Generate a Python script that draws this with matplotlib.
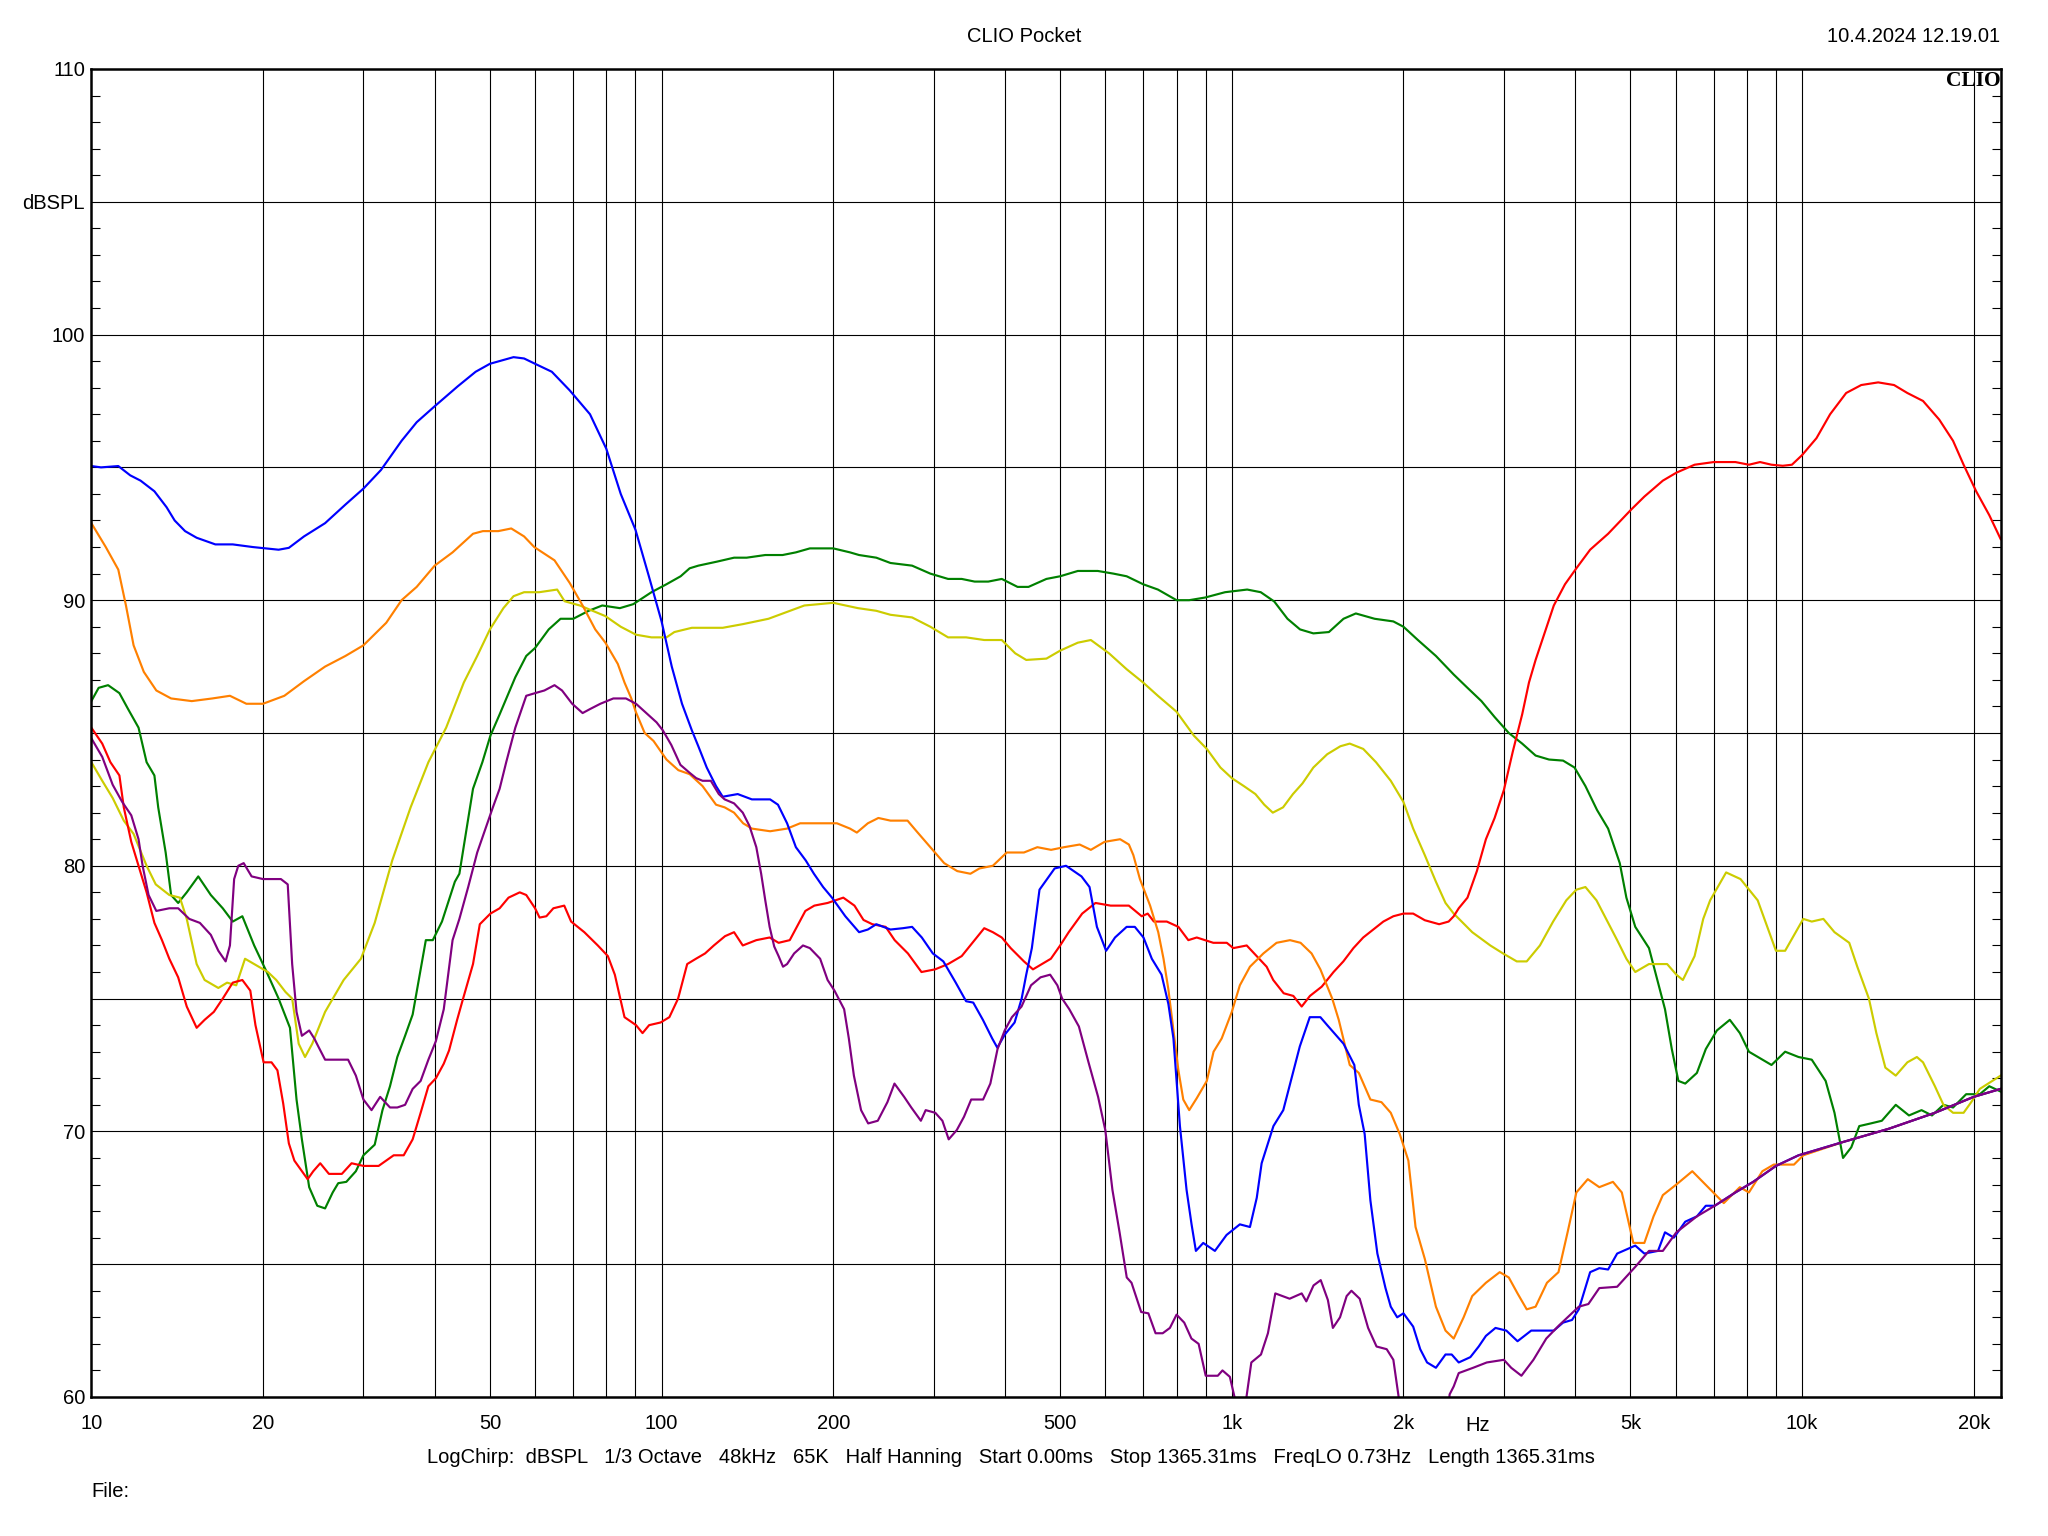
import matplotlib
matplotlib.use("Agg")
import matplotlib.pyplot as plt

plt.rcParams['font.family'] = ['Liberation Sans', 'DejaVu Sans']

# ---------------- data (frequency in Hz, level in dBSPL) ----------------
blue_f = [10, 10.4, 11.15, 11.7, 12.2, 12.9, 13.55, 14.0, 14.6, 15.3, 16.5, 17.7, 19.2, 21.3, 22.2, 23.6,
          25.7, 27.9, 30, 32.2, 35, 37.2, 40, 43.9, 47.2, 50, 55, 57.4, 60, 64.2, 69, 74.9, 80, 84.8, 90, 95,
          100, 104.2, 108.6, 113, 116, 120, 124.6, 128, 136, 144, 155, 160, 166, 172, 179, 185, 192, 199, 210,
          222, 230, 238, 252, 265, 275, 286, 299, 312, 328, 342, 352, 366, 380, 388, 400, 416, 428, 436, 446,
          460, 489, 512, 545, 563, 580, 602, 624, 654, 676, 700, 724, 753, 774, 790, 811, 833, 850, 865, 891,
          934, 979, 1033, 1076, 1106, 1128, 1183, 1231, 1273, 1316, 1370, 1430, 1470, 1570, 1640, 1670, 1710,
          1750, 1800, 1860, 1900, 1950, 2000, 2080, 2140, 2200, 2280, 2370, 2430, 2500, 2620, 2710, 2790, 2900,
          3030, 3170, 3350, 3540, 3670, 3810, 3950, 4060, 4250, 4410, 4570, 4740, 5100, 5290, 5590, 5750, 5960,
          6240, 6540, 6780, 7030, 7640, 8210, 9000, 9860, 11800, 14200, 17100, 20000, 22300]
blue_db = [95.05, 95.0, 95.05, 94.7, 94.5, 94.1, 93.5, 93.0, 92.6, 92.35, 92.1, 92.1, 92.0, 91.9, 91.97, 92.4,
           92.9, 93.6, 94.2, 94.9, 96.0, 96.7, 97.3, 98.05, 98.6, 98.9, 99.15, 99.1, 98.9, 98.6, 97.9, 97.0,
           95.7, 94.0, 92.65, 90.9, 89.2, 87.5, 86.1, 85.1, 84.5, 83.7, 83.0, 82.6, 82.7, 82.5, 82.5, 82.3, 81.6,
           80.7, 80.2, 79.7, 79.2, 78.8, 78.1, 77.5, 77.6, 77.8, 77.6, 77.65, 77.7, 77.3, 76.7, 76.4, 75.6, 74.9,
           74.85, 74.2, 73.5, 73.15, 73.65, 74.1, 75.0, 75.9, 76.9, 79.1, 79.9, 80.0, 79.6, 79.2, 77.7, 76.8, 77.3,
           77.7, 77.7, 77.3, 76.5, 75.9, 74.8, 73.5, 70.2, 67.8, 66.5, 65.5, 65.8, 65.5, 66.1, 66.5, 66.4, 67.5,
           68.8, 70.2, 70.8, 72.0, 73.2, 74.3, 74.3, 74.0, 73.3, 72.5, 71.0, 69.9, 67.4, 65.4, 64.1, 63.4, 63.0,
           63.15, 62.65, 61.8, 61.3, 61.1, 61.6, 61.6, 61.3, 61.5, 61.9, 62.3, 62.6, 62.5, 62.1, 62.5, 62.5, 62.5,
           62.8, 62.9, 63.3, 64.7, 64.85, 64.8, 65.4, 65.7, 65.4, 65.5, 66.2, 66.0, 66.6, 66.8, 67.2, 67.2, 67.7,
           68.1, 68.7, 69.1, 69.6, 70.1, 70.7, 71.3, 71.6]

orange_f = [10, 10.6, 11.15, 11.5, 11.86, 12.36, 13.0, 13.8, 15.0, 16.3, 17.5, 18.7, 20, 21.8, 23.6, 25.7, 27.9,
            30, 32.9, 35, 37.2, 40, 43, 46.7, 48.6, 51.7, 54.5, 57.4, 59.8, 64.9, 69, 72.7, 76.5, 79.7, 83.8,
            86.1, 88.5, 90.1, 93.4, 96.8, 102, 107, 112, 118, 124.6, 129, 134, 139, 144, 155, 166, 175, 192, 203,
            214, 220, 230, 240, 252, 270, 280, 296, 313, 330, 348, 361, 381, 403, 432, 456, 482, 508, 541, 566,
            598, 637, 660, 672, 690, 719, 743, 759, 774, 790, 806, 822, 842, 868, 904, 929, 960, 1000, 1033,
            1076, 1136, 1198, 1265, 1320, 1380, 1430, 1500, 1540, 1610, 1670, 1750, 1830, 1900, 1970, 2040, 2100,
            2180, 2280, 2370, 2450, 2550, 2640, 2790, 2950, 3060, 3170, 3290, 3410, 3570, 3740, 3880, 4020, 4210,
            4410, 4660, 4830, 5060, 5290, 5490, 5700, 6020, 6420, 6840, 7290, 7780, 8070, 8520, 8920, 9680, 10050,
            11800, 14200, 17100, 20000, 22300]
orange_db = [92.9, 92.0, 91.15, 89.8, 88.3, 87.3, 86.6, 86.3, 86.2, 86.3, 86.4, 86.1, 86.1, 86.4, 86.95, 87.5,
             87.9, 88.3, 89.15, 90.0, 90.5, 91.3, 91.8, 92.5, 92.6, 92.6, 92.7, 92.4, 92.0, 91.5, 90.65, 89.8,
             88.9, 88.4, 87.6, 86.9, 86.3, 85.8, 85.0, 84.7, 84.0, 83.6, 83.45, 83.0, 82.3, 82.2, 82.0, 81.6, 81.4,
             81.3, 81.4, 81.6, 81.6, 81.6, 81.4, 81.25, 81.6, 81.8, 81.7, 81.7, 81.3, 80.7, 80.1, 79.8, 79.7, 79.9,
             80.0, 80.5, 80.5, 80.7, 80.6, 80.7, 80.8, 80.6, 80.9, 81.0, 80.8, 80.4, 79.5, 78.5, 77.5, 76.5, 75.35,
             73.8, 72.3, 71.2, 70.8, 71.25, 71.9, 73.0, 73.5, 74.5, 75.5, 76.2, 76.7, 77.1, 77.2, 77.1, 76.7, 76.1,
             75.0, 74.2, 72.5, 72.2, 71.2, 71.1, 70.7, 69.9, 68.9, 66.4, 65.2, 63.4, 62.5, 62.2, 63.0, 63.8, 64.3,
             64.7, 64.5, 63.9, 63.3, 63.4, 64.3, 64.7, 66.2, 67.7, 68.2, 67.9, 68.1, 67.7, 65.8, 65.8, 66.8, 67.6,
             68.0, 68.5, 67.9, 67.3, 67.9, 67.7, 68.5, 68.75, 68.75, 69.1, 69.6, 70.1, 70.7, 71.3, 71.6]

yellow_f = [10, 10.45, 10.9, 11.4, 11.86, 12.5, 12.97, 13.7, 14.3, 14.7, 15.3, 15.8, 16.7, 17.3, 17.95, 18.6,
            19.3, 20.4, 21.1, 21.9, 22.5, 23.1, 23.7, 24.4, 25.7, 27.7, 29.7, 31.4, 33.7, 36.3, 39, 41.9, 45,
            47.5, 50, 52.8, 55, 57.4, 61, 65.6, 67.6, 71.9, 79.7, 84.8, 90.2, 96, 102, 105.3, 113, 128, 139, 154,
            178, 200, 221, 238, 252, 275, 296, 318, 342, 368, 395, 417, 436, 473, 500, 537, 566, 609, 654, 699,
            742, 800, 858, 904, 955, 1000, 1050, 1100, 1140, 1180, 1230, 1280, 1330, 1390, 1470, 1550, 1610, 1700,
            1790, 1900, 2000, 2080, 2180, 2280, 2370, 2450, 2640, 2840, 2990, 3160, 3290, 3470, 3660, 3860, 4020,
            4170, 4360, 4740, 4920, 5100, 5390, 5800, 6020, 6180, 6480, 6710, 6900, 7360, 7800, 8360, 9000, 9340,
            10050, 10400, 10900, 11400, 12100, 12500, 13100, 13500, 14000, 14600, 15300, 15900, 16300, 17100,
            17700, 18400, 19200, 19800, 20500, 22300]
yellow_db = [83.9, 83.2, 82.55, 81.7, 81.2, 80.0, 79.3, 78.9, 78.8, 78.0, 76.3, 75.7, 75.4, 75.6, 75.5, 76.5,
             76.3, 76.0, 75.7, 75.25, 75.0, 73.3, 72.8, 73.3, 74.5, 75.7, 76.5, 77.85, 80.2, 82.2, 83.9, 85.2,
             86.9, 87.9, 88.9, 89.7, 90.15, 90.3, 90.3, 90.4, 89.96, 89.8, 89.4, 89.0, 88.7, 88.6, 88.6, 88.8,
             88.96, 88.96, 89.1, 89.3, 89.8, 89.9, 89.7, 89.6, 89.45, 89.35, 89.0, 88.6, 88.6, 88.5, 88.5, 88.0,
             87.75, 87.8, 88.1, 88.4, 88.5, 88.0, 87.4, 86.9, 86.4, 85.8, 84.9, 84.4, 83.7, 83.3, 83.0, 82.7, 82.3,
             82.0, 82.2, 82.7, 83.1, 83.7, 84.2, 84.5, 84.6, 84.4, 83.9, 83.2, 82.4, 81.4, 80.4, 79.4, 78.6, 78.2,
             77.5, 77.0, 76.7, 76.4, 76.4, 77.0, 77.9, 78.7, 79.1, 79.2, 78.7, 77.2, 76.5, 76.0, 76.3, 76.3, 75.9,
             75.7, 76.6, 78.0, 78.7, 79.75, 79.5, 78.7, 76.8, 76.8, 78.0, 77.9, 78.0, 77.5, 77.1, 76.2, 75.0, 73.7,
             72.4, 72.1, 72.6, 72.8, 72.6, 71.7, 71.0, 70.7, 70.7, 71.1, 71.6, 72.1]

green_f = [10, 10.3, 10.7, 11.2, 11.6, 12.1, 12.5, 12.9, 13.1, 13.5, 13.8, 14.2, 14.7, 15.4, 16.2, 17.0, 17.7,
           18.4, 19.3, 20.3, 21.3, 22.3, 22.9, 23.4, 24.1, 24.9, 25.7, 26.5, 27.1, 28.0, 29.1, 30, 31.4, 32.4,
           33.4, 34.4, 35.5, 36.6, 38.6, 39.7, 41.2, 43.4, 44.2, 46.7, 48.5, 50.1, 52, 55.4, 57.9, 60, 63.4, 66.5,
           70, 74.5, 78.7, 84.5, 89.2, 96, 102, 108, 112, 116, 125, 134, 141, 152, 163, 172, 182, 200, 214, 222,
           238, 252, 275, 296, 318, 336, 354, 374, 395, 421, 440, 473, 500, 537, 582, 620, 654, 699, 742, 800,
           842, 898, 973, 1064, 1124, 1187, 1252, 1317, 1390, 1480, 1570, 1650, 1780, 1920, 2000, 2120, 2280,
           2450, 2590, 2740, 2890, 3060, 3230, 3410, 3600, 3810, 3990, 4170, 4370, 4570, 4790, 4920, 5100, 5390,
           5590, 5750, 5910, 6070, 6240, 6540, 6780, 7090, 7470, 7780, 8070, 8840, 9340, 9860, 10400, 11000,
           11400, 11800, 12200, 12600, 13200, 13800, 14600, 15400, 16200, 16900, 17700, 18400, 19400, 20500,
           21300, 22300]
green_db = [86.2, 86.7, 86.8, 86.5, 85.9, 85.2, 83.9, 83.4, 82.2, 80.5, 78.9, 78.6, 79.0, 79.6, 78.9, 78.4, 77.9,
            78.1, 77.0, 76.0, 75.0, 73.9, 71.2, 69.7, 67.9, 67.2, 67.1, 67.7, 68.05, 68.1, 68.5, 69.1, 69.5, 70.8,
            71.7, 72.8, 73.6, 74.4, 77.2, 77.2, 77.9, 79.4, 79.7, 82.9, 83.9, 84.9, 85.7, 87.1, 87.9, 88.2, 88.9,
            89.3, 89.3, 89.6, 89.8, 89.7, 89.85, 90.3, 90.6, 90.9, 91.2, 91.3, 91.45, 91.6, 91.6, 91.7, 91.7,
            91.8, 91.95, 91.95, 91.8, 91.7, 91.6, 91.4, 91.3, 91.0, 90.8, 90.8, 90.7, 90.7, 90.8, 90.5, 90.5,
            90.8, 90.9, 91.1, 91.1, 91.0, 90.9, 90.6, 90.4, 90.0, 90.0, 90.1, 90.3, 90.4, 90.3, 89.95, 89.3, 88.9,
            88.75, 88.8, 89.3, 89.5, 89.3, 89.2, 89.0, 88.5, 87.9, 87.2, 86.7, 86.2, 85.6, 85.0, 84.6, 84.15, 84.0,
            83.96, 83.7, 83.0, 82.1, 81.4, 80.1, 78.8, 77.7, 76.9, 75.6, 74.6, 73.1, 71.9, 71.8, 72.2, 73.1, 73.8,
            74.2, 73.7, 73.0, 72.5, 73.0, 72.8, 72.7, 71.9, 70.7, 69.0, 69.4, 70.2, 70.3, 70.4, 71.0, 70.6, 70.8,
            70.6, 71.0, 70.9, 71.4, 71.4, 71.7, 71.5]

purple_f = [10, 10.45, 10.9, 11.33, 11.75, 12.1, 12.3, 12.6, 13.0, 13.7, 14.2, 14.85, 15.5, 16.2, 16.7, 17.2,
            17.5, 17.8, 18.1, 18.5, 19.1, 20, 21.5, 22.1, 22.5, 22.9, 23.4, 24.1, 24.6, 25.0, 25.7, 26.5, 28.2,
            29.1, 30, 31.0, 32.1, 33.4, 34.4, 35.5, 36.6, 37.8, 39.0, 40.2, 41.5, 43.0, 44.2, 45.8, 47.5, 49.3,
            50.6, 52, 53.4, 55.4, 57.9, 60, 62.3, 64.9, 66.9, 69.7, 72.7, 74.9, 78.1, 82.3, 86.6, 90.2, 94, 98,
            100.5, 104, 107.9, 112, 115, 118, 122, 126, 129, 134, 138.8, 142.6, 146.6, 149.5, 152, 154.7, 157.6,
            160.4, 163.3, 166, 170.8, 177, 182, 189.7, 195.5, 201, 209, 213, 217.4, 223.8, 230.3, 239.4, 248.9,
            256.1, 266.3, 274.1, 284.9, 290.5, 302, 310.8, 318.8, 329.4, 339.1, 349.1, 366.3, 377.2, 388.3, 399.7,
            411.5, 427.8, 444.5, 461.9, 480.2, 494.4, 504, 518.8, 539.3, 560.7, 582.8, 600, 617.5, 635.6, 654.3,
            667, 693.5, 714, 735, 756.5, 778.8, 800, 825.2, 849.6, 874.6, 900, 945, 963, 992, 1011, 1035, 1061,
            1082, 1125, 1157, 1192, 1263, 1326, 1351, 1391, 1432, 1474, 1504, 1548, 1590, 1621, 1676, 1734, 1794,
            1869, 1920, 1960, 2000, 2350, 2410, 2450, 2500, 2650, 2800, 3000, 3090, 3220, 3380, 3560, 3750, 3970,
            4060, 4220, 4410, 4740, 5100, 5390, 5700, 6020, 6540, 7030, 7640, 8210, 9000, 9860, 11800, 14200,
            17100, 20000, 22300]
purple_db = [84.8, 84.1, 83.05, 82.4, 81.9, 81.0, 80.0, 78.9, 78.3, 78.4, 78.4, 78.0, 77.85, 77.4, 76.8, 76.4,
             77.0, 79.5, 80.0, 80.1, 79.6, 79.5, 79.5, 79.3, 76.3, 74.5, 73.6, 73.8, 73.5, 73.2, 72.7, 72.7, 72.7,
             72.1, 71.2, 70.8, 71.3, 70.9, 70.9, 71.0, 71.6, 71.9, 72.7, 73.4, 74.6, 77.2, 78.0, 79.2, 80.5, 81.5,
             82.2, 82.9, 83.9, 85.2, 86.4, 86.5, 86.6, 86.8, 86.6, 86.1, 85.75, 85.9, 86.1, 86.3, 86.3, 86.1,
             85.75, 85.4, 85.1, 84.55, 83.8, 83.5, 83.3, 83.2, 83.2, 82.7, 82.5, 82.35, 82.0, 81.5, 80.7, 79.7,
             78.7, 77.7, 76.96, 76.6, 76.2, 76.3, 76.7, 77.0, 76.9, 76.5, 75.7, 75.3, 74.6, 73.5, 72.1, 70.8,
             70.3, 70.4, 71.1, 71.8, 71.3, 70.9, 70.4, 70.8, 70.7, 70.4, 69.7, 70.05, 70.55, 71.2, 71.2, 71.8,
             73.1, 73.8, 74.3, 74.7, 75.5, 75.8, 75.9, 75.5, 75.0, 74.6, 73.95, 72.6, 71.3, 70.05, 67.8, 66.2,
             64.5, 64.3, 63.2, 63.15, 62.4, 62.4, 62.6, 63.1, 62.8, 62.2, 62.0, 60.8, 60.8, 61.0, 60.76, 60.0,
             58.5, 60.0, 61.3, 61.6, 62.4, 63.9, 63.7, 63.9, 63.6, 64.2, 64.4, 63.65, 62.6, 63.0, 63.8, 64.0,
             63.7, 62.6, 61.9, 61.8, 61.4, 60.05, 58.0, 58.0, 60.1, 60.4, 60.9, 61.1, 61.3, 61.4, 61.1, 60.8,
             61.4, 62.2, 62.7, 63.2, 63.4, 63.5, 64.1, 64.15, 64.9, 65.5, 65.5, 66.2, 66.8, 67.2, 67.7, 68.1,
             68.7, 69.1, 69.6, 70.1, 70.7, 71.3, 71.6]

red_f = [10, 10.45, 10.8, 11.2, 11.4, 11.75, 12.1, 12.5, 12.9, 13.3, 13.7, 14.2, 14.7, 15.3, 15.8, 16.4, 17.0,
         17.7, 18.4, 19.0, 19.4, 20.05, 20.7, 21.2, 21.7, 22.2, 22.7, 23.4, 23.95, 24.5, 25.2, 26.1, 27.5, 28.6,
         30, 31.9, 33.9, 35.3, 36.6, 37.8, 39, 40.2, 41.5, 42.4, 43.8, 44.8, 46.7, 48, 50.1, 52, 53.9, 56.4, 57.9,
         60, 61.1, 62.8, 64.6, 67.5, 69.4, 73.2, 77.3, 80.5, 82.8, 86.1, 90.2, 92.6, 95.1, 99.6, 103.2, 106.9,
         110.9, 114.9, 119.2, 123.5, 129.2, 134, 138.8, 146.6, 154.7, 160.4, 167.8, 178.7, 185.3, 195.5, 208.3,
         217.9, 226, 234.2, 247.2, 256.3, 270.4, 285.6, 301.7, 318, 336, 354, 368, 381, 395, 409.5, 432, 448,
         464.7, 481.6, 500, 517.6, 546.5, 576.7, 613, 660, 695, 712, 730, 769, 806, 839, 868, 928, 980, 1006,
         1062, 1117, 1151, 1182, 1233, 1282, 1326, 1371, 1438, 1508, 1569, 1634, 1700, 1771, 1844, 1920, 2000,
         2080, 2180, 2310, 2400, 2450, 2500, 2590, 2690, 2790, 2890, 3000, 3110, 3230, 3320, 3410, 3540, 3670,
         3840, 4020, 4250, 4570, 5010, 5290, 5700, 6020, 6480, 7000, 7640, 8070, 8440, 8840, 9250, 9600, 10000,
         10600, 11200, 11950, 12700, 13600, 14500, 15300, 16300, 17400, 18400, 19200, 20200, 21300, 22300]
red_db = [85.2, 84.6, 83.9, 83.4, 82.2, 80.9, 80.0, 79.0, 77.85, 77.2, 76.5, 75.8, 74.7, 73.9, 74.2, 74.5, 75.0,
          75.6, 75.7, 75.3, 74.0, 72.6, 72.6, 72.3, 71.05, 69.55, 68.9, 68.5, 68.2, 68.5, 68.8, 68.4, 68.4, 68.8,
          68.7, 68.7, 69.1, 69.1, 69.7, 70.7, 71.7, 72.0, 72.55, 73.05, 74.2, 74.95, 76.3, 77.8, 78.2, 78.4,
          78.8, 79.0, 78.9, 78.4, 78.05, 78.1, 78.4, 78.5, 77.9, 77.5, 77.0, 76.6, 75.9, 74.3, 74.0, 73.7, 74.0,
          74.1, 74.3, 75.0, 76.3, 76.5, 76.7, 77.0, 77.35, 77.5, 77.0, 77.2, 77.3, 77.1, 77.2, 78.3, 78.5, 78.6,
          78.8, 78.5, 77.96, 77.8, 77.7, 77.2, 76.7, 76.0, 76.1, 76.3, 76.6, 77.2, 77.65, 77.5, 77.3, 76.9, 76.4,
          76.1, 76.3, 76.5, 77.0, 77.5, 78.2, 78.6, 78.5, 78.5, 78.1, 78.2, 77.9, 77.9, 77.7, 77.2, 77.3, 77.1,
          77.1, 76.9, 77.0, 76.5, 76.2, 75.7, 75.2, 75.1, 74.7, 75.1, 75.45, 76.0, 76.4, 76.9, 77.3, 77.6, 77.9,
          78.1, 78.2, 78.2, 77.95, 77.8, 77.9, 78.1, 78.4, 78.8, 79.8, 81.0, 81.8, 82.85, 84.3, 85.7, 86.9, 87.75,
          88.8, 89.8, 90.6, 91.2, 91.9, 92.5, 93.4, 93.9, 94.5, 94.8, 95.1, 95.2, 95.2, 95.1, 95.2, 95.1, 95.06,
          95.1, 95.46, 96.1, 97.0, 97.8, 98.1, 98.2, 98.1, 97.8, 97.5, 96.8, 96.0, 95.1, 94.1, 93.2, 92.3]

x_tick_freqs = [10, 20, 50, 100, 200, 500, 1000, 2000, 5000, 10000, 20000]
x_tick_labels = ["10", "20", "50", "100", "200", "500", "1k", "2k", "5k", "10k", "20k"]
x_grid_freqs = [20, 30, 40, 50, 60, 70, 80, 90, 100, 200, 300, 400, 500, 600, 700, 800, 900,
                1000, 2000, 3000, 4000, 5000, 6000, 7000, 8000, 9000, 10000, 20000]
y_ticks = [60, 65, 70, 75, 80, 85, 90, 95, 100, 105, 110]
y_tick_labels = ["60", "", "70", "", "80", "", "90", "", "100", "dBSPL", "110"]

series = [
    (green_f, green_db, "#008000"),
    (yellow_f, yellow_db, "#CCCC00"),
    (red_f, red_db, "#FF0000"),
    (orange_f, orange_db, "#FF8000"),
    (blue_f, blue_db, "#0000FF"),
    (purple_f, purple_db, "#800080"),
]

# ---------------- figure ----------------
FS = 14.5
fig = plt.figure(figsize=(20.48, 15.36), dpi=100)
ax = fig.add_axes([0.0446, 0.0905, 0.9325, 0.8646])
ax.set_xscale("log")
ax.set_xlim(10, 22340)
ax.set_ylim(60, 110)

for f, db, c in series:
    ax.plot(f, db, color=c, lw=1.55, solid_joinstyle="round", zorder=3)

# x axis
ax.set_xticks(x_tick_freqs)
ax.set_xticklabels(x_tick_labels, fontsize=FS)
ax.set_xticks([], minor=True)
ax.tick_params(axis="x", which="both", length=0, pad=12)
for g in x_grid_freqs:
    ax.axvline(g, color="black", lw=0.8, zorder=1)

# y axis
ax.set_yticks(y_ticks)
ax.set_yticklabels(y_tick_labels, fontsize=FS)
ax.set_yticks([v for v in range(61, 110) if v % 5 != 0], minor=True)
ax.tick_params(axis="y", which="major", length=0, pad=4.5)
ax.tick_params(axis="y", which="minor", direction="in", length=6.5, width=0.8,
               left=True, right=True, color="black")
for v in y_ticks[1:-1]:
    ax.axhline(v, color="black", lw=0.8, zorder=1)

for sp in ax.spines.values():
    sp.set_linewidth(1.8)
    sp.set_zorder(4)

# "Hz" unit label among the frequency labels
ax.text(2700, -0.0215, "Hz", transform=ax.get_xaxis_transform(), ha="center", va="center", fontsize=FS)

# CLIO logo
ax.text(0.9995, 0.9985, "CLIO", transform=ax.transAxes, ha="right", va="top",
        fontsize=15.5, fontweight="bold", family=["Liberation Serif", "DejaVu Serif"])

# header / footer texts
fig.text(0.5, 0.9765, "CLIO Pocket", ha="center", va="center", fontsize=FS)
fig.text(0.9766, 0.9765, "10.4.2024 12.19.01", ha="right", va="center", fontsize=FS)
fig.text(0.4937, 0.0512,
         "LogChirp:  dBSPL   1/3 Octave   48kHz   65K   Half Hanning   Start 0.00ms   "
         "Stop 1365.31ms   FreqLO 0.73Hz   Length 1365.31ms",
         ha="center", va="center", fontsize=FS)
fig.text(0.0446, 0.029, "File:", ha="left", va="center", fontsize=FS)

fig.savefig("out.png", dpi=100, facecolor="white")
